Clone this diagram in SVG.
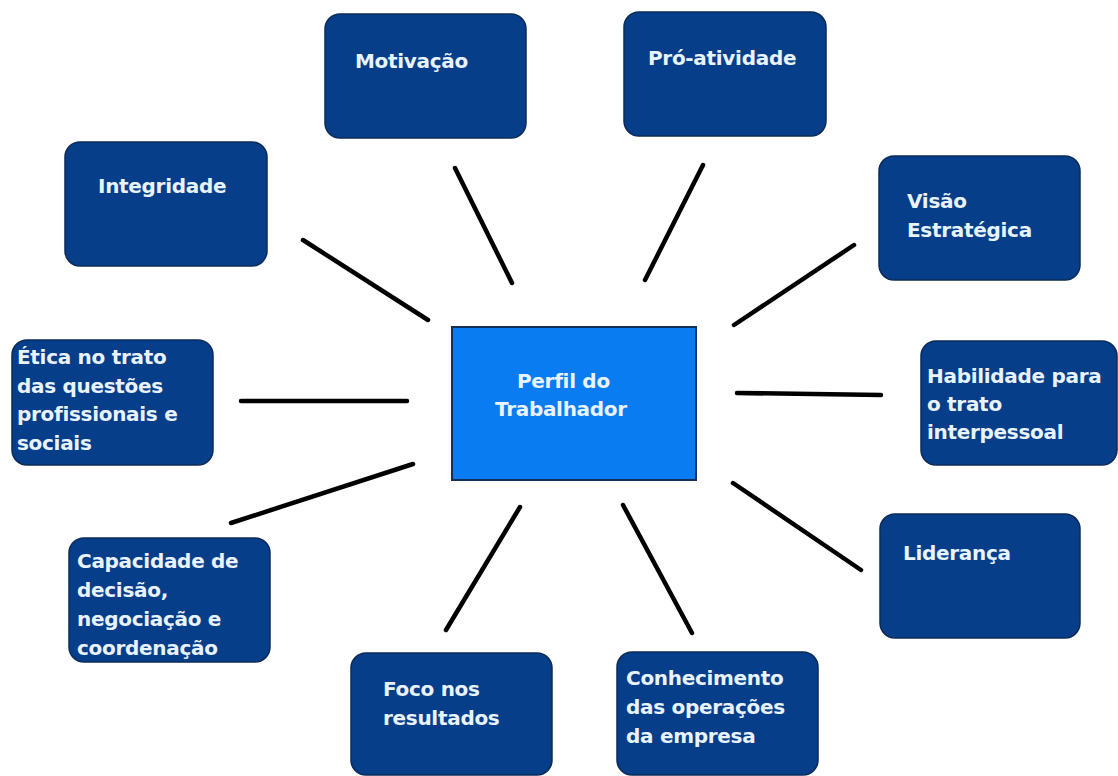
<svg xmlns="http://www.w3.org/2000/svg" width="1118" height="776" viewBox="0 0 1118 776">
<style>
.n{fill:#063e8a;stroke:#0b2b58;stroke-width:1.5}
.c{fill:#0a7cf2;stroke:#13305a;stroke-width:2}
.t{font-family:"DejaVu Sans",Verdana,sans-serif;font-weight:bold;font-size:20px;letter-spacing:-0.3px;fill:#e8f3ff}
.l{stroke:#000;stroke-width:4.5;stroke-linecap:round}
</style>
<rect width="1118" height="776" fill="#fff"/>
<g id="connectors">
<line class="l" x1="455" y1="168" x2="512" y2="283"/>
<line class="l" x1="703" y1="165" x2="645" y2="280"/>
<line class="l" x1="303" y1="240" x2="428" y2="320"/>
<line class="l" x1="854" y1="245" x2="734" y2="325"/>
<line class="l" x1="241" y1="401" x2="407" y2="401"/>
<line class="l" x1="737" y1="393" x2="881" y2="395"/>
<line class="l" x1="231" y1="523" x2="413" y2="464"/>
<line class="l" x1="733" y1="483" x2="861" y2="570"/>
<line class="l" x1="520" y1="507" x2="446" y2="630"/>
<line class="l" x1="623" y1="505" x2="692" y2="633"/>
</g>
<g id="center">
<rect class="c" x="452" y="327" width="244" height="153"/>
<text class="t" x="517" y="388">Perfil do</text>
<text class="t" x="495" y="416">Trabalhador</text>
</g>
<g id="motivacao">
<rect class="n" x="325" y="14" width="201" height="124" rx="15"/>
<text class="t" x="355" y="68">Motivação</text>
</g>
<g id="proatividade">
<rect class="n" x="624" y="12" width="202" height="124" rx="15"/>
<text class="t" x="648" y="65">Pró-atividade</text>
</g>
<g id="integridade">
<rect class="n" x="65" y="142" width="202" height="124" rx="15"/>
<text class="t" x="98" y="193">Integridade</text>
</g>
<g id="visao">
<rect class="n" x="879" y="156" width="201" height="124" rx="15"/>
<text class="t" x="907" y="208">Visão</text>
<text class="t" x="907" y="237">Estratégica</text>
</g>
<g id="etica">
<rect class="n" x="12" y="340" width="201" height="125" rx="15"/>
<text class="t" x="17" y="364">Ética no trato</text>
<text class="t" x="17" y="393">das questões</text>
<text class="t" x="17" y="421">profissionais e</text>
<text class="t" x="17" y="450">sociais</text>
</g>
<g id="habilidade">
<rect class="n" x="921" y="341" width="196" height="124" rx="15"/>
<text class="t" x="927" y="383">Habilidade para</text>
<text class="t" x="927" y="411">o trato</text>
<text class="t" x="927" y="439">interpessoal</text>
</g>
<g id="capacidade">
<rect class="n" x="69" y="538" width="201" height="124" rx="15"/>
<text class="t" x="77" y="568">Capacidade de</text>
<text class="t" x="77" y="597">decisão,</text>
<text class="t" x="77" y="626">negociação e</text>
<text class="t" x="77" y="655">coordenação</text>
</g>
<g id="lideranca">
<rect class="n" x="880" y="514" width="200" height="124" rx="15"/>
<text class="t" x="903" y="560">Liderança</text>
</g>
<g id="foco">
<rect class="n" x="351" y="653" width="201" height="122" rx="15"/>
<text class="t" x="383" y="696">Foco nos</text>
<text class="t" x="383" y="725">resultados</text>
</g>
<g id="conhecimento">
<rect class="n" x="617" y="652" width="201" height="123" rx="15"/>
<text class="t" x="626" y="685">Conhecimento</text>
<text class="t" x="626" y="714">das operações</text>
<text class="t" x="626" y="743">da empresa</text>
</g>
</svg>
